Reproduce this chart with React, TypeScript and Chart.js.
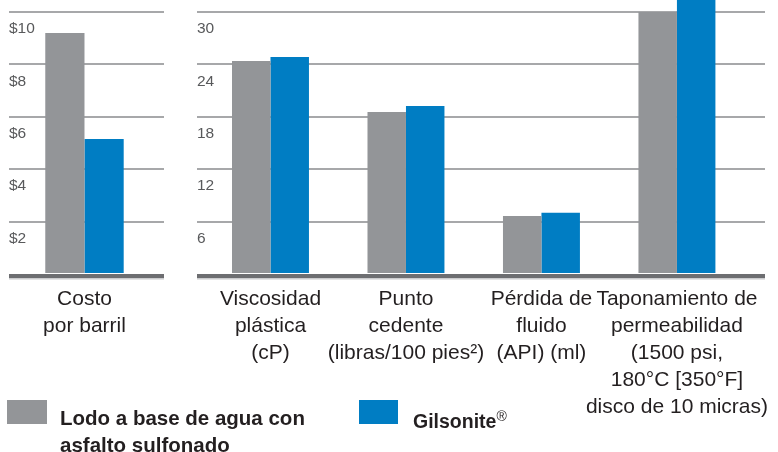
import React, { useEffect, useRef } from 'react';
import { Chart, registerables } from 'chart.js';

Chart.register(...registerables);

const FONT = "'Liberation Sans', Arial, Helvetica, sans-serif";

// ---- data ----
const seriesNames = ['Lodo a base de agua con asfalto sulfonado', 'Gilsonite®'];
const seriesColors = ['#939598', '#007dc3'];

const costCategories = [['Costo', 'por barril']];
const costMud = [9.2];
const costGilsonite = [5.15];
const costTickMax = 10;
const costTickStep = 2;
const costTickPrefix = '$';

const propCategories = [
  ['Viscosidad', 'plástica', '(cP)'],
  ['Punto', 'cedente', '(libras/100 pies²)'],
  ['Pérdida de', 'fluido', '(API) (ml)'],
  ['Taponamiento de', 'permeabilidad', '(1500 psi,', '180°C [350°F]', 'disco de 10 micras)'],
];
const propMud = [24.4, 18.55, 6.64, 30.0];
const propGilsonite = [24.85, 19.24, 7.02, 33];
const propTickMax = 30;
const propTickStep = 6;
const propTickPrefix = '';

const baselinePlugin = {
  id: 'baseline',
  afterDatasetsDraw(chart: any) {
    const { ctx, chartArea } = chart;
    const { left, right, bottom } = chartArea;
    ctx.save();
    ctx.fillStyle = '#6d6e71';
    ctx.fillRect(left, bottom, right - left, 4.3);
    ctx.fillStyle = '#c9cacc';
    ctx.fillRect(left, bottom + 4.3, right - left, 1.2);
    ctx.restore();
  },
};

function makeConfig(opts: {
  categories: string[][];
  mud: number[];
  gil: number[];
  yMax: number;
  yStep: number;
  prefix: string;
  xMin: number;
  xMax: number;
  catPct: number;
  padLeft: number;
  padRight: number;
}): any {
  const { categories, mud, gil } = opts;
  return {
    type: 'bar',
    data: {
      datasets: [
        {
          label: seriesNames[0],
          data: categories.map((_, i) => ({ x: i, y: mud[i] })),
          backgroundColor: seriesColors[0],
          borderWidth: 0,
          clip: false,
          categoryPercentage: opts.catPct,
          barPercentage: 1,
        },
        {
          label: seriesNames[1],
          data: categories.map((_, i) => ({ x: i, y: gil[i] })),
          backgroundColor: seriesColors[1],
          borderWidth: 0,
          clip: false,
          categoryPercentage: opts.catPct,
          barPercentage: 1,
        },
      ],
    },
    options: {
      animation: false,
      responsive: false,
      maintainAspectRatio: false,
      layout: { padding: { left: opts.padLeft, right: opts.padRight, top: 12, bottom: 0 } },
      plugins: { legend: { display: false }, tooltip: { enabled: false } },
      scales: {
        x: {
          type: 'linear',
          offset: false,
          min: opts.xMin,
          max: opts.xMax,
          grid: { display: false, drawTicks: false, offset: false },
          border: { display: false },
          afterBuildTicks: (scale: any) => {
            scale.ticks = categories.map((_, i) => ({ value: i }));
          },
          afterFit: (scale: any) => {
            scale.height = 178;
            scale.paddingLeft = 0;
            scale.paddingRight = 0;
          },
          ticks: {
            autoSkip: false,
            maxRotation: 0,
            minRotation: 0,
            padding: 12,
            color: '#231f20',
            font: { family: FONT, size: 21, lineHeight: 1.286 },
            callback: (v: number) => categories[v] ?? '',
          },
        },
        y: {
          min: 0,
          max: opts.yMax,
          grid: {
            drawTicks: false,
            lineWidth: 2,
            color: (c: any) => (c.tick && c.tick.value === 0 ? 'rgba(0,0,0,0)' : '#a7a8aa'),
          },
          border: { display: false },
          ticks: {
            stepSize: opts.yStep,
            mirror: true,
            padding: 0,
            labelOffset: 17,
            color: '#58595b',
            font: { family: FONT, size: 15.5 },
            callback: (v: number) => (v === 0 ? '' : opts.prefix + v),
          },
        },
      },
    },
    plugins: [baselinePlugin],
  };
}

function BarPanel(props: { config: any; left: number; width: number }) {
  const ref = useRef<HTMLCanvasElement | null>(null);
  useEffect(() => {
    if (!ref.current) return;
    const chart = new Chart(ref.current, props.config);
    return () => chart.destroy();
  }, []);
  return (
    <canvas
      ref={ref}
      width={props.width}
      height={452}
      style={{ position: 'absolute', left: props.left, top: 0, width: props.width, height: 452 }}
    />
  );
}

function LegendName({ name }: { name: string }) {
  const parts = name.split('®');
  if (parts.length === 1) return <>{name}</>;
  return (
    <>
      {parts[0]}
      <span style={{ fontSize: 14, fontWeight: 'normal', verticalAlign: 7 }}>®</span>
      {parts[1]}
    </>
  );
}

export default function App() {
  const costConfig = makeConfig({
    categories: costCategories,
    mud: costMud,
    gil: costGilsonite,
    yMax: costTickMax,
    yStep: costTickStep,
    prefix: costTickPrefix,
    xMin: -0.487,
    xMax: 0.513,
    catPct: 0.506,
    padLeft: 9,
    padRight: 16,
  });
  const propConfig = makeConfig({
    categories: propCategories,
    mud: propMud,
    gil: propGilsonite,
    yMax: propTickMax,
    yStep: propTickStep,
    prefix: propTickPrefix,
    xMin: -0.5424,
    xMax: 3.65,
    catPct: 0.568,
    padLeft: 17,
    padRight: 13,
  });

  const legendText: React.CSSProperties = {
    position: 'absolute',
    fontFamily: FONT,
    fontWeight: 'bold',
    fontSize: 20.5,
    lineHeight: '27px',
    color: '#231f20',
  };

  return (
    <div
      style={{
        position: 'fixed',
        left: 0,
        top: 0,
        width: 778,
        height: 452,
        background: '#ffffff',
        overflow: 'hidden',
      }}
    >
      <BarPanel config={costConfig} left={0} width={180} />
      <BarPanel config={propConfig} left={180} width={598} />
      <div style={{ position: 'absolute', left: 7, top: 400, width: 40, height: 24, background: seriesColors[0] }} />
      <div style={{ ...legendText, left: 60, top: 404, width: 265 }}>
        <LegendName name={seriesNames[0]} />
      </div>
      <div style={{ position: 'absolute', left: 359, top: 400, width: 39, height: 24, background: seriesColors[1] }} />
      <div style={{ ...legendText, left: 413, top: 403, width: 200, fontSize: 19.5 }}>
        <LegendName name={seriesNames[1]} />
      </div>
    </div>
  );
}
